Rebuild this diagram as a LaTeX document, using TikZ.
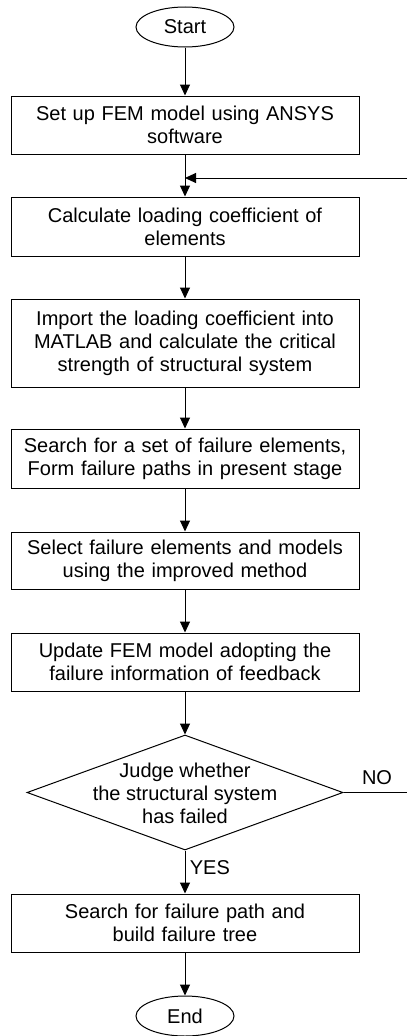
\documentclass[tikz,border=0pt]{standalone}
\usepackage{fontspec}
\setmainfont{Liberation Sans}
\usetikzlibrary{shapes.geometric,arrows.meta}
\begin{document}
\begin{tikzpicture}[x=1pt,y=-1pt,
  every node/.style={font=\fontsize{20}{23}\selectfont},
  procbox/.style={draw, line width=1pt, rectangle, minimum width=348pt, inner sep=0pt, text width=344pt, align=center},
  term/.style={draw, line width=1pt, ellipse, minimum width=98pt, minimum height=40pt, inner sep=0pt},
  flow/.style={line width=1pt, -{Triangle[length=11pt,width=10pt]}},
  plain/.style={line width=1pt}]
\useasboundingbox (0,0) rectangle (407,1036);
\node[term] (start) at (185,27) {Start};
\node[procbox, minimum height=58pt] (b1) at (185,125) {Set up FEM model using ANSYS\\software};
\node[procbox, minimum height=59pt] (b2) at (185,226.5) {Calculate loading coefficient of\\elements};
\node[procbox, minimum height=88pt] (b3) at (185,343) {Import the loading coefficient into\\MATLAB and calculate the critical\\strength of structural system};
\node[procbox, minimum height=59pt] (b4) at (185,458.5) {Search for a set of failure elements,\\Form failure paths in present stage};
\node[procbox, minimum height=57pt] (b5) at (185,560.5) {Select failure elements and models\\using the improved method};
\node[procbox, minimum height=58pt] (b6) at (185,662) {Update FEM model adopting the\\failure information of feedback};
\node[draw, line width=1pt, diamond, minimum width=316pt, minimum height=115pt, inner sep=0pt] (d) at (185,792.5) {};
\node[align=center] (dtext) at (185,793) {Judge whether\\the structural system\\has failed};
\node[procbox, minimum height=58pt] (b7) at (185,923) {Search for failure path and\\build failure tree};
\node[term] (end) at (185,1016) {End};
\coordinate (fbR) at (407,178);
\coordinate (noR) at (407,792.5);
\draw[flow] (start) -- (b1);
\draw[flow] (b1) -- (b2);
\draw[flow] (fbR) -- (b1.south |- fbR);
\draw[flow] (b2) -- (b3);
\draw[flow] (b3) -- (b4);
\draw[flow] (b4) -- (b5);
\draw[flow] (b5) -- (b6);
\draw[flow] (b6) -- (d.north);
\draw[flow] (d.south) -- node[right, pos=0.4, xshift=1pt] (yes) {YES} (b7);
\draw[plain] (d.east) -- (noR);
\node (no) at (377,778) {NO};
\draw[flow] (b7) -- (end);
\end{tikzpicture}
\end{document}
